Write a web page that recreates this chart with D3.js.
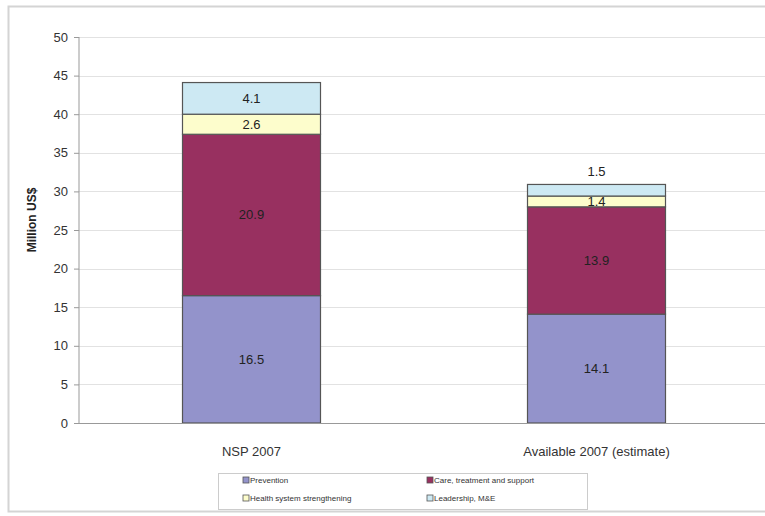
<!DOCTYPE html>
<meta charset="utf-8">
<style>
  body { margin: 0; background: #fff; }
  text { font-family: Arial, "Liberation Sans", sans-serif; }
  .axis text { font-size: 13px; fill: #333; }
  .axis path, .axis line { stroke: #999; }
</style>
<svg class="chart"></svg>
<script src="https://d3js.org/d3.v7.min.js"></script>
<script>
  var categories = ["NSP 2007", "Available 2007 (estimate)"];
  var seriesNames = ["Prevention", "Care, treatment and support", "Health system strengthening", "Leadership, M&E"];
  var prevention = [16.5, 14.1];
  var care = [20.9, 13.9];
  var healthSystem = [2.6, 1.4];
  var leadership = [4.1, 1.5];
  var yTicks = [0, 5, 10, 15, 20, 25, 30, 35, 40, 45, 50];

  var colors = ["#9393cb", "#983060", "#fdfdcc", "#cde9f3"];

  var W = 765, H = 516;
  var svg = d3.select(".chart").attr("width", W).attr("height", H);

  // outer frame
  svg.append("rect")
      .attr("x", 8.5).attr("y", 6.5)
      .attr("width", 770).attr("height", 505)
      .attr("fill", "none").attr("stroke", "#d4d4d4").attr("stroke-width", 2);

  var x = d3.scaleBand()
      .domain(categories)
      .range([79, 769])
      .paddingInner(0.6)
      .paddingOuter(0.3);

  var y = d3.scaleLinear().domain([0, 50]).range([423, 37]);

  // gridlines
  svg.append("g")
    .selectAll("line")
      .data(yTicks.slice(1))
    .enter().append("line")
      .attr("x1", 79).attr("x2", W)
      .attr("y1", function(d) { return Math.round(y(d)) + 0.5; })
      .attr("y2", function(d) { return Math.round(y(d)) + 0.5; })
      .attr("stroke", "#e2e2e2");

  var table = categories.map(function(c, i) {
    return { cat: c, s0: prevention[i], s1: care[i], s2: healthSystem[i], s3: leadership[i] };
  });
  var stack = d3.stack().keys(["s0", "s1", "s2", "s3"])(table);

  var layers = svg.append("g").selectAll("g")
      .data(stack)
    .enter().append("g")
      .attr("fill", function(d, i) { return colors[i]; });

  layers.selectAll("rect")
      .data(function(d) { return d; })
    .enter().append("rect")
      .attr("x", function(d) { return x(d.data.cat); })
      .attr("width", x.bandwidth())
      .attr("y", function(d) { return y(d[1]); })
      .attr("height", function(d) { return y(d[0]) - y(d[1]); })
      .attr("stroke", "#555")
      .attr("stroke-width", 1.2);

  // value labels; a thin top segment gets its label above the bar
  layers.each(function(layer, li) {
    d3.select(this).selectAll("text")
        .data(layer)
      .enter().append("text")
        .attr("x", function(d) { return x(d.data.cat) + x.bandwidth() / 2; })
        .attr("y", function(d) {
          if (li === stack.length - 1 && d[1] - d[0] < 2) return y(d[1]) - 8;
          return (y(d[0]) + y(d[1])) / 2 + 4.5;
        })
        .attr("text-anchor", "middle")
        .style("font-size", "13px")
        .attr("fill", "#222")
        .text(function(d) { return d3.format(".1f")(d[1] - d[0]); });
  });

  // axes
  var yAxis = svg.append("g")
      .attr("class", "axis")
      .attr("transform", "translate(79,0)")
      .call(d3.axisLeft(y).tickValues(yTicks).tickSize(5).tickPadding(6));
  yAxis.select(".domain").attr("d", "M0,37V423");

  svg.append("line")
      .attr("x1", 79).attr("x2", W)
      .attr("y1", 423.5).attr("y2", 423.5)
      .attr("stroke", "#999");

  svg.append("g")
    .selectAll("text")
      .data(categories)
    .enter().append("text")
      .attr("x", function(d) { return x(d) + x.bandwidth() / 2; })
      .attr("y", 456)
      .attr("text-anchor", "middle")
      .style("font-size", "13px")
      .attr("fill", "#333")
      .text(function(d) { return d; });

  svg.append("text")
      .attr("transform", "translate(36,220) rotate(-90)")
      .attr("text-anchor", "middle")
      .style("font-size", "12px")
      .style("font-weight", "bold")
      .attr("fill", "#222")
      .text("Million US$");

  // legend
  var legend = svg.append("g");
  legend.append("rect")
      .attr("x", 218.5).attr("y", 473.5)
      .attr("width", 369).attr("height", 36)
      .attr("fill", "#fff").attr("stroke", "#ccc");

  var legendPos = [[243, 483], [427, 483], [243, 501], [427, 501]];
  var items = legend.selectAll("g")
      .data(seriesNames)
    .enter().append("g")
      .attr("transform", function(d, i) { return "translate(" + legendPos[i][0] + "," + legendPos[i][1] + ")"; });
  items.append("rect")
      .attr("x", 0).attr("y", -6)
      .attr("width", 6).attr("height", 6)
      .attr("fill", function(d, i) { return colors[i]; })
      .attr("stroke", "#555").attr("stroke-width", 0.8);
  items.append("text")
      .attr("x", 7).attr("y", 0)
      .style("font-size", "8px")
      .attr("fill", "#333")
      .text(function(d) { return d; });
</script>
